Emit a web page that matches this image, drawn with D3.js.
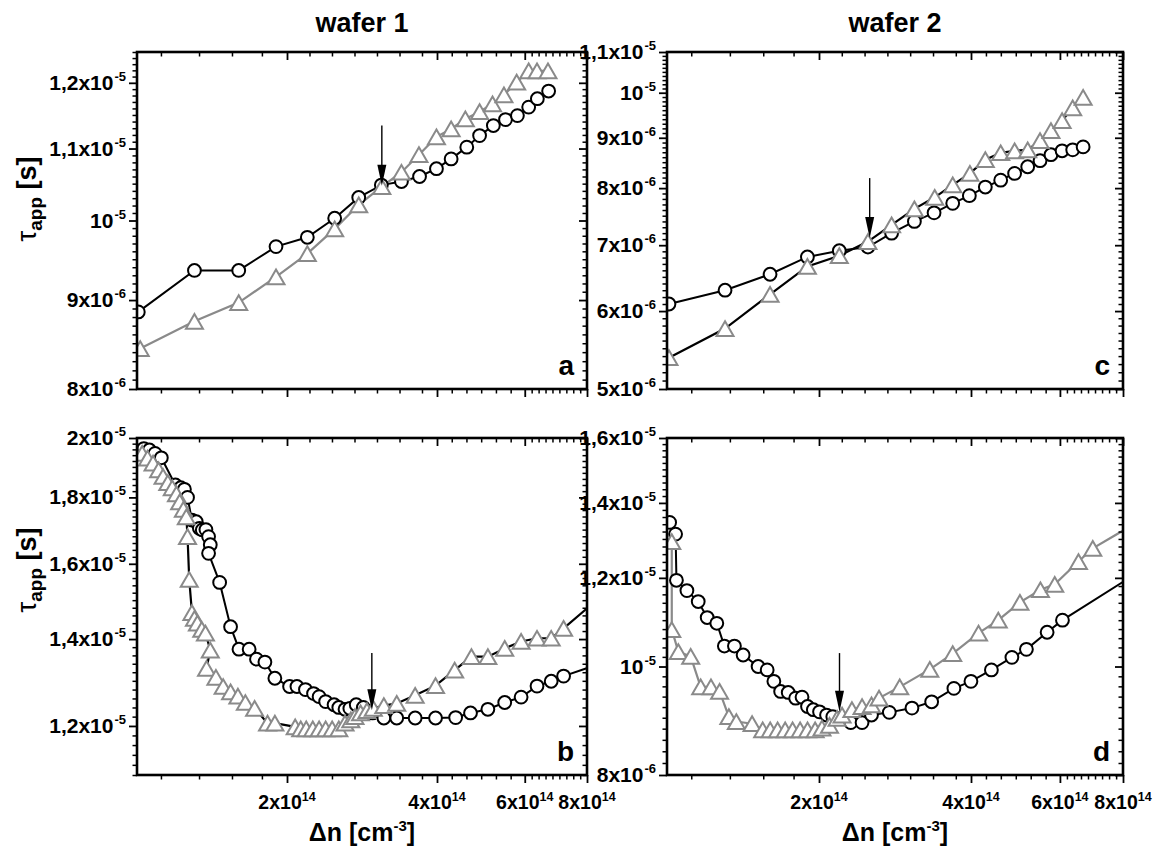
<!DOCTYPE html>
<html><head><meta charset="utf-8">
<script src="https://cdn.jsdelivr.net/npm/d3@7"></script>
<style>
body{margin:0;background:#fff;}
svg{display:block;font-family:"Liberation Sans",Arial,Helvetica,sans-serif;font-weight:bold;}
</style></head><body>
<svg id="chart" width="1161" height="854"></svg>
<script>
// x values: injection level Δn in units of 1e14 cm^-3 ; tau values in µs (1e-6 s)

// ---- panel a (wafer 1, top) ----
const aCircX   = [1.006,1.304,1.600,1.901,2.197,2.493,2.786,3.093,3.394,3.69,3.99,4.27,4.59,4.87,5.19,5.49,5.80,6.11,6.36,6.70];
const aCircTau = [8.86,9.36,9.36,9.66,9.78,10.03,10.31,10.48,10.53,10.60,10.71,10.85,11.02,11.19,11.34,11.43,11.49,11.62,11.75,11.87];
const aTriX    = [1.015,1.304,1.600,1.901,2.197,2.493,2.786,3.10,3.394,3.68,3.99,4.27,4.56,4.87,5.17,5.45,5.78,6.11,6.35,6.68];
const aTriTau  = [8.44,8.75,8.97,9.28,9.57,9.89,10.21,10.46,10.66,10.91,11.17,11.29,11.44,11.55,11.67,11.81,12.01,12.19,12.19,12.19];
const aArrow   = [3.10, 11.34, 10.47]; // x, tau at tail, tau at tip

// ---- panel b (wafer 1, bottom) ----
const bCircX   = [1.032,1.059,1.087,1.119,1.194,1.224,1.245,1.263,1.289,1.315,1.334,1.352,1.375,1.392,1.403,1.392,1.465,1.541,1.602,1.679,1.737,1.806,1.891,2.024,2.094,2.178,2.261,2.320,2.391,2.486,2.541,2.615,2.674,2.754,2.846,2.970,3.129,3.321,3.616,3.973,4.36,4.67,5.06,5.47,5.90,6.35,6.78,7.18,8.5];
const bCircTau = [19.63,19.58,19.46,19.31,18.40,18.31,18.26,18.00,17.29,17.24,17.04,16.99,17.00,16.79,16.55,16.30,15.48,14.31,13.75,13.75,13.51,13.44,13.06,12.87,12.87,12.80,12.71,12.64,12.53,12.46,12.40,12.36,12.38,12.46,12.40,12.28,12.17,12.17,12.17,12.17,12.18,12.28,12.36,12.51,12.63,12.88,12.99,13.11,13.40];
const bTriX    = [1.024,1.050,1.077,1.105,1.128,1.153,1.177,1.200,1.218,1.239,1.256,1.263,1.273,1.289,1.304,1.322,1.349,1.372,1.403,1.379,1.440,1.489,1.541,1.594,1.650,1.722,1.828,1.891,2.077,2.131,2.186,2.253,2.320,2.391,2.464,2.541,2.615,2.686,2.738,2.81,2.894,2.98,3.129,3.321,3.616,3.973,4.34,4.69,5.06,5.47,5.90,6.35,6.78,7.18,8.5];
const bTriTau  = [19.46,19.30,19.13,18.90,18.68,18.48,18.31,18.11,17.86,17.62,17.39,16.79,15.56,14.67,14.52,14.40,14.24,14.15,13.73,13.29,13.08,12.87,12.75,12.65,12.51,12.38,12.06,12.06,11.98,11.94,11.94,11.94,11.94,11.94,11.94,11.94,12.06,12.13,12.20,12.28,12.33,12.38,12.44,12.49,12.67,12.89,13.25,13.57,13.57,13.77,13.94,14.02,14.02,14.27,15.08];
const bArrow   = [2.96, 13.66, 12.34];

// ---- panel c (wafer 2, top) ----
const cCircX   = [1.009,1.303,1.600,1.897,2.194,2.50,2.785,3.09,3.38,3.68,3.97,4.27,4.58,4.88,5.18,5.48,5.76,6.06,6.36,6.67];
const cCircTau = [6.10,6.30,6.54,6.81,6.91,6.97,7.20,7.40,7.55,7.72,7.86,8.02,8.15,8.28,8.41,8.53,8.65,8.73,8.75,8.81];
const cTriX    = [1.009,1.303,1.600,1.897,2.194,2.50,2.785,3.09,3.39,3.68,3.98,4.27,4.58,4.88,5.18,5.48,5.76,6.06,6.36,6.67];
const cTriTau  = [5.38,5.76,6.24,6.66,6.83,7.06,7.34,7.62,7.83,8.06,8.28,8.55,8.69,8.73,8.75,8.94,9.15,9.37,9.65,9.89];
const cArrow   = [2.52, 8.19, 7.12];

// ---- panel d (wafer 2, bottom) ----
const dCircX   = [1.012,1.040,1.044,1.095,1.153,1.201,1.255,1.299,1.360,1.415,1.515,1.579,1.628,1.679,1.738,1.798,1.851,1.898,1.949,2.005,2.07,2.13,2.207,2.312,2.434,2.541,2.756,3.056,3.343,3.70,3.999,4.39,4.82,5.15,5.66,6.07,8.6];
const dCircTau = [13.45,13.13,11.94,11.69,11.43,11.06,10.93,10.43,10.43,10.24,10.00,9.93,9.70,9.50,9.48,9.37,9.39,9.21,9.15,9.11,9.05,9.02,8.99,8.91,8.91,9.05,9.10,9.18,9.30,9.56,9.70,9.93,10.19,10.36,10.73,11.00,12.15];
const dTriX    = [1.022,1.022,1.053,1.114,1.166,1.222,1.271,1.326,1.372,1.474,1.547,1.601,1.656,1.714,1.773,1.835,1.898,1.965,2.027,2.098,2.172,2.222,2.324,2.434,2.541,2.63,2.89,3.315,3.68,4.14,4.53,5.00,5.49,5.86,6.53,6.97,8.6];
const dTriTau  = [12.93,10.79,10.31,10.21,9.59,9.59,9.50,9.02,8.93,8.89,8.78,8.78,8.78,8.78,8.78,8.78,8.78,8.78,8.81,8.86,8.99,9.05,9.15,9.21,9.24,9.37,9.59,9.94,10.27,10.71,11.00,11.41,11.71,11.84,12.41,12.75,13.48];
const dArrow   = [2.196, 10.28, 9.11];

// ---- axes: ticks and labels ----
const xDomain      = [1, 8];
const xTicks       = [2, 4, 6, 8];
const xTickLabels  = [["2x10","14"],["4x10","14"],["6x10","14"],["8x10","14"]];
const xMinorTicks  = [1.117,1.332,1.551,1.781, 2.219,2.462,2.732,3.031,3.364,3.732, 4.282,4.583,4.906,5.252,5.622, 6.195,6.397,6.605,6.820,7.042,7.272,7.508,7.753];

const yDomainA = [8, 12.5],  yTicksA = [8,9,10,11,12];
const yLabelsA = [["8x10","-6"],["9x10","-6"],["10","-5"],["1,1x10","-5"],["1,2x10","-5"]];
const yDomainB = [11, 20],   yTicksB = [12,14,16,18,20];
const yLabelsB = [["1,2x10","-5"],["1,4x10","-5"],["1,6x10","-5"],["1,8x10","-5"],["2x10","-5"]];
const yDomainC = [5, 11],    yTicksC = [5,6,7,8,9,10,11];
const yLabelsC = [["5x10","-6"],["6x10","-6"],["7x10","-6"],["8x10","-6"],["9x10","-6"],["10","-5"],["1,1x10","-5"]];
const yDomainD = [8, 16],    yTicksD = [8,10,12,14,16];
const yLabelsD = [["8x10","-6"],["10","-5"],["1,2x10","-5"],["1,4x10","-5"],["1,6x10","-5"]];

const titles = ["wafer 1", "wafer 2"];

// ---- layout / style ----
const BLACK = "#000", GRAY = "#8a8a8a";
const panels = [
  {key:"a", left:137, right:587, top:52,  bottom:389, yDomain:yDomainA, yTicks:yTicksA, yLabels:yLabelsA, minorStep:0.1, xLabels:false,
   circ:[aCircX,aCircTau], tri:[aTriX,aTriTau], triLine:GRAY, arrow:aArrow, yTitle:true, titleY:199},
  {key:"b", left:137, right:587, top:438, bottom:775, yDomain:yDomainB, yTicks:yTicksB, yLabels:yLabelsB, minorStep:0.2, xLabels:true,
   circ:[bCircX,bCircTau], tri:[bTriX,bTriTau], triLine:BLACK, arrow:bArrow, yTitle:true, titleY:570},
  {key:"c", left:667, right:1123, top:52, bottom:389, yDomain:yDomainC, yTicks:yTicksC, yLabels:yLabelsC, minorStep:0.1, xLabels:false,
   circ:[cCircX,cCircTau], tri:[cTriX,cTriTau], triLine:BLACK, arrow:cArrow, yTitle:false},
  {key:"d", left:667, right:1123, top:438, bottom:775, yDomain:yDomainD, yTicks:yTicksD, yLabels:yLabelsD, minorStep:0.2, xLabels:true,
   circ:[dCircX,dCircTau], tri:[dTriX,dTriTau], triLine:GRAY, arrow:dArrow, yTitle:false}
];

const svg = d3.select("#chart");
const defs = svg.append("defs");

function triPath(s){ const h = s*Math.sqrt(3)/2; return `M0,${-h/2}L${s/2},${h/2}L${-s/2},${h/2}Z`; }

function styleAxis(g, w){
  g.select(".domain").remove();
  g.selectAll(".tick line").attr("stroke", BLACK).attr("stroke-width", w);
  g.selectAll(".tick text").remove();
}

panels.forEach(p => {
  const x = d3.scaleLog().domain(xDomain).range([p.left, p.right]);
  const y = d3.scaleLog().domain(p.yDomain).range([p.bottom, p.top]);
  const g = svg.append("g");

  defs.append("clipPath").attr("id", "clip-" + p.key)
    .append("rect").attr("x", p.left).attr("y", p.top)
    .attr("width", p.right - p.left).attr("height", p.bottom - p.top);
  const plot = g.append("g").attr("clip-path", `url(#clip-${p.key})`);

  const line = d3.line().x(d => x(d[0])).y(d => y(d[1]));
  const circPts = p.circ[0].map((v,i) => [v, p.circ[1][i]]);
  const triPts  = p.tri[0].map((v,i) => [v, p.tri[1][i]]);

  plot.append("path").datum(circPts).attr("d", line)
    .attr("fill","none").attr("stroke", BLACK).attr("stroke-width", 2);
  plot.append("path").datum(triPts).attr("d", line)
    .attr("fill","none").attr("stroke", p.triLine).attr("stroke-width", 2.2);

  plot.selectAll("circle.c").data(circPts).join("circle")
    .attr("cx", d => x(d[0])).attr("cy", d => y(d[1])).attr("r", 6.4)
    .attr("fill","#fff").attr("stroke", BLACK).attr("stroke-width", 2);
  plot.selectAll("path.t").data(triPts).join("path")
    .attr("transform", d => `translate(${x(d[0])},${y(d[1])})`)
    .attr("d", triPath(17))
    .attr("fill","#fff").attr("stroke", GRAY).attr("stroke-width", 2);

  // arrow
  const ax = x(p.arrow[0]), ay0 = y(p.arrow[1]), ay1 = y(p.arrow[2]);
  g.append("line").attr("x1", ax).attr("x2", ax).attr("y1", ay0).attr("y2", ay1 - 10)
    .attr("stroke", BLACK).attr("stroke-width", 1.4);
  g.append("path").attr("d", `M${ax},${ay1}L${ax-4.5},${ay1-21}L${ax+4.5},${ay1-21}Z`).attr("fill", BLACK);

  // minor y ticks
  const yMinor = d3.range(p.yDomain[0], p.yDomain[1] + 1e-9, p.minorStep)
    .map(v => +v.toFixed(3)).filter(v => !p.yTicks.some(t => Math.abs(t - v) < 1e-6));

  // left axis
  const gl = g.append("g").attr("transform", `translate(${p.left},0)`)
    .call(d3.axisLeft(y).tickValues(p.yTicks).tickSize(8).tickFormat(""));
  styleAxis(gl, 1.8);
  const glm = g.append("g").attr("transform", `translate(${p.left},0)`)
    .call(d3.axisLeft(y).tickValues(yMinor).tickSize(4.5).tickFormat(""));
  styleAxis(glm, 1.5);
  // right axis (ticks inward)
  const gr = g.append("g").attr("transform", `translate(${p.right},0)`)
    .call(d3.axisLeft(y).tickValues(p.yTicks).tickSize(8).tickFormat(""));
  styleAxis(gr, 1.8);
  const grm = g.append("g").attr("transform", `translate(${p.right},0)`)
    .call(d3.axisLeft(y).tickValues(yMinor).tickSize(4.5).tickFormat(""));
  styleAxis(grm, 1.5);
  // bottom axis (outward) and top axis (inward)
  [p.bottom, p.top].forEach(yy => {
    const gb = g.append("g").attr("transform", `translate(0,${yy})`)
      .call(d3.axisBottom(x).tickValues(xTicks).tickSize(8).tickFormat(""));
    styleAxis(gb, 1.8);
    const gbm = g.append("g").attr("transform", `translate(0,${yy})`)
      .call(d3.axisBottom(x).tickValues(xMinorTicks).tickSize(4.5).tickFormat(""));
    styleAxis(gbm, 1.5);
  });

  // y tick labels
  p.yTicks.forEach((v,i) => {
    const t = g.append("text").attr("x", p.left - 11).attr("y", y(v) + 7)
      .attr("text-anchor","end").attr("font-size", 21).attr("fill", BLACK);
    t.append("tspan").text(p.yLabels[i][0]);
    t.append("tspan").attr("dx", 1).attr("dy", -9).attr("font-size", 13).text(p.yLabels[i][1]);
  });

  // x tick labels
  if (p.xLabels) {
    xTicks.forEach((v,i) => {
      const t = g.append("text").attr("x", x(v)).attr("y", p.bottom + 34)
        .attr("text-anchor","middle").attr("font-size", 19.5).attr("fill", BLACK);
      t.append("tspan").text(xTickLabels[i][0]);
      t.append("tspan").attr("dy", -8).attr("font-size", 12.5).text(xTickLabels[i][1]);
    });
    const xl = g.append("text").attr("x", (p.left + p.right)/2).attr("y", p.bottom + 66)
      .attr("text-anchor","middle").attr("font-size", 25);
    xl.append("tspan").text("Δn [cm");
    xl.append("tspan").attr("dy", -10).attr("font-size", 15).text("-3");
    xl.append("tspan").attr("dy", 10).text("]");
  }

  // y axis title
  if (p.yTitle) {
    const yt = g.append("text").attr("transform", `translate(36,${p.titleY}) rotate(-90)`)
      .attr("text-anchor","middle").attr("font-size", 27);
    yt.append("tspan").attr("font-weight","normal").text("τ");
    yt.append("tspan").attr("dy", 6).attr("font-size", 19).text("app");
    yt.append("tspan").attr("dy", -6).text(" [s]");
  }

  // frame
  g.append("rect").attr("x", p.left).attr("y", p.top)
    .attr("width", p.right - p.left).attr("height", p.bottom - p.top)
    .attr("fill","none").attr("stroke", BLACK).attr("stroke-width", 2.6);

  // panel letter
  g.append("text").attr("x", p.right - 13).attr("y", p.bottom - 14)
    .attr("text-anchor","end").attr("font-size", 28).text(p.key);
});

// column titles
[[panels[0], titles[0]], [panels[2], titles[1]]].forEach(([p, t]) => {
  svg.append("text").attr("x", (p.left + p.right)/2).attr("y", 32)
    .attr("text-anchor","middle").attr("font-size", 27).text(t);
});
</script>
</body></html>
